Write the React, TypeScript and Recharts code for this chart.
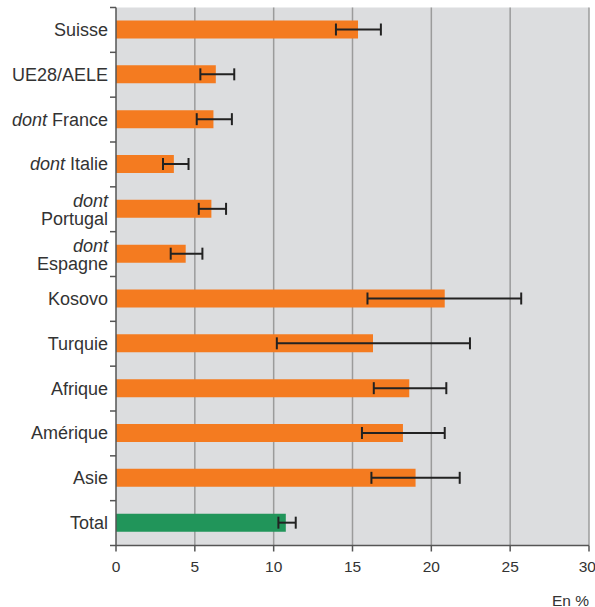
import React from "react";
import {
  BarChart, Bar, XAxis, YAxis, CartesianGrid, ErrorBar, Cell,
} from "recharts";

const categories = [
  "Suisse", "UE28/AELE", "dont France", "dont Italie", "dont\nPortugal", "dont\nEspagne",
  "Kosovo", "Turquie", "Afrique", "Amérique", "Asie", "Total",
];
const values = [15.35, 6.33, 6.18, 3.67, 6.05, 4.42, 20.85, 16.3, 18.6, 18.2, 19.0, 10.77];
const lows = [13.95, 5.35, 5.12, 2.98, 5.25, 3.47, 15.95, 10.2, 16.35, 15.6, 16.2, 10.3];
const highs = [16.8, 7.5, 7.35, 4.6, 6.98, 5.48, 25.7, 22.45, 20.95, 20.85, 21.8, 11.4];
const xTicks = [0, 5, 10, 15, 20, 25, 30];

const data = categories.map((name, i) => ({
  name,
  value: values[i],
  err: [values[i] - lows[i], highs[i] - values[i]],
}));

const FONT = "'Liberation Sans', Arial, sans-serif";

function CategoryTick(props: any) {
  const { x, y, payload, index } = props;
  const axisX = x + 8;
  const half = payload.offset || 538 / 24;
  const label: string = payload.value;
  // tick marks sit on the band edges, not the centres
  const marks = (
    <>
      <line x1={axisX - 6} x2={axisX} y1={y - half} y2={y - half} stroke="#555" strokeWidth={1.5} />
      {index === categories.length - 1 && (
        <line x1={axisX - 6} x2={axisX} y1={y + half} y2={y + half} stroke="#555" strokeWidth={1.5} />
      )}
    </>
  );
  if (label.includes("\n")) {
    const [a, b] = label.split("\n");
    return (
      <g>
        {marks}
        <text x={x} y={y} textAnchor="end" fontSize={18} fill="#333" fontFamily={FONT}>
          <tspan x={x} dy={-2} fontStyle={a === "dont" ? "italic" : "normal"}>{a}</tspan>
          <tspan x={x} dy={18}>{b}</tspan>
        </text>
      </g>
    );
  }
  return (
    <g>
      {marks}
      <text x={x} y={y + 6} textAnchor="end" fontSize={18} fill="#333" fontFamily={FONT}>
        {label.startsWith("dont ") ? (
          <>
            <tspan fontStyle="italic">dont</tspan>
            <tspan>{label.slice(4)}</tspan>
          </>
        ) : label}
      </text>
    </g>
  );
}

export default function App() {
  return (
    <div style={{ width: 595, height: 607, background: "#fff" }}>
      <style>{`body{margin:0}`}</style>
      <BarChart
        width={595}
        height={607}
        data={data}
        layout="vertical"
        margin={{ top: 7.5, right: 6, left: 0, bottom: 1.5 }}
        barCategoryGap={0}
      >
        <CartesianGrid
          horizontal={false}
          fill="#dcdddf"
          stroke="#9b9b9b"
          strokeWidth={1.5}
          verticalValues={[5, 10, 15, 20, 25, 30]}
        />
        <XAxis
          type="number"
          domain={[0, 30]}
          ticks={xTicks}
          tickSize={6}
          tickMargin={9}
          height={60}
          stroke="#555"
          strokeWidth={1.5}
          tick={{ fill: "#333", fontSize: 15.5, fontFamily: FONT }}
          label={{ value: "En %", position: "insideBottomRight", offset: 0, fill: "#333", fontSize: 15.5, fontFamily: FONT }}
        />
        <YAxis
          type="category"
          dataKey="name"
          width={116}
          stroke="#555"
          strokeWidth={1.5}
          tickLine={false}
          interval={0}
          tick={<CategoryTick />}
        />
        <Bar dataKey="value" barSize={18} isAnimationActive={false}>
          {data.map((d, i) => (
            <Cell key={i} fill={d.name === "Total" ? "#21955a" : "#f47b20"} />
          ))}
          <ErrorBar dataKey="err" direction="x" width={6} stroke="#222" strokeWidth={2} isAnimationActive={false} />
        </Bar>
      </BarChart>
    </div>
  );
}
